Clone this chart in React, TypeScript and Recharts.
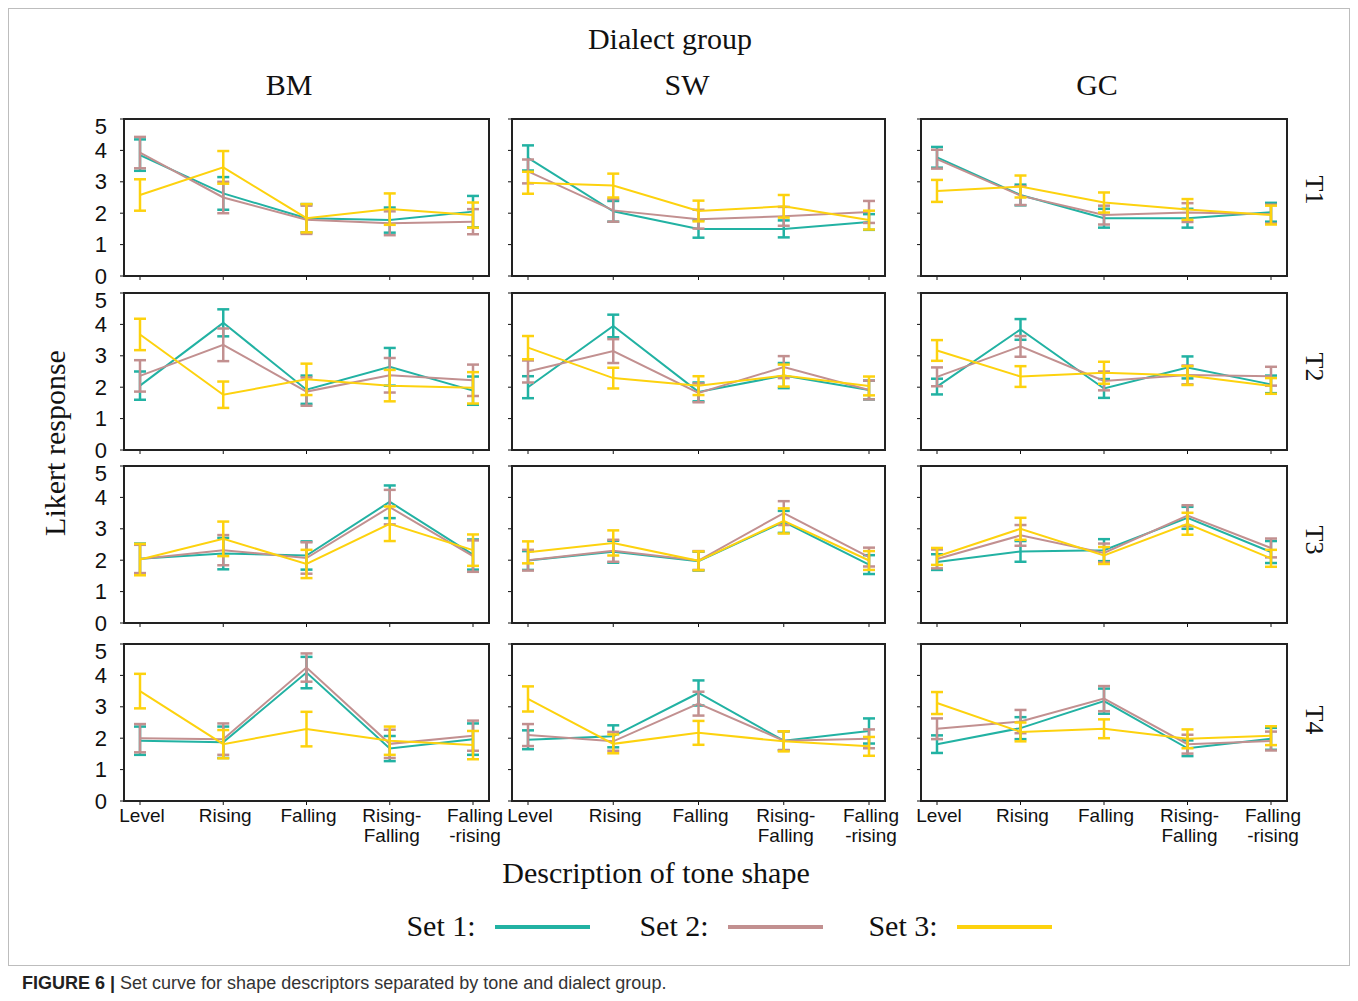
import React from "react";
import { LineChart, Line, XAxis, YAxis, ErrorBar } from "recharts";

// ---------- categories / labels ----------
const categories = ["Level", "Rising", "Falling", "Rising-\nFalling", "Falling\n-rising"];
const dialects = ["BM", "SW", "GC"];
const tones = ["T1", "T2", "T3", "T4"];
const yTicks = [0, 1, 2, 3, 4, 5];
const setNames = ["Set 1:", "Set 2:", "Set 3:"];

// ---------- BM ----------
const bmT1Set1 = [3.85, 2.63, 1.84, 1.78, 2.05];
const bmT1Set2 = [3.93, 2.5, 1.79, 1.68, 1.73];
const bmT1Set3 = [2.58, 3.46, 1.84, 2.13, 1.94];
const bmT1Err1 = [0.5, 0.52, 0.45, 0.4, 0.5];
const bmT1Err2 = [0.5, 0.5, 0.45, 0.38, 0.4];
const bmT1Err3 = [0.5, 0.52, 0.45, 0.5, 0.4];

const bmT2Set1 = [2.05, 4.05, 1.92, 2.65, 1.89];
const bmT2Set2 = [2.36, 3.35, 1.86, 2.38, 2.22];
const bmT2Set3 = [3.68, 1.76, 2.25, 2.05, 1.98];
const bmT2Err1 = [0.45, 0.43, 0.45, 0.6, 0.45];
const bmT2Err2 = [0.5, 0.52, 0.45, 0.55, 0.5];
const bmT2Err3 = [0.5, 0.42, 0.5, 0.5, 0.5];

const bmT3Set1 = [2.05, 2.21, 2.15, 3.86, 2.18];
const bmT3Set2 = [2.04, 2.32, 2.07, 3.69, 2.13];
const bmT3Set3 = [2.02, 2.68, 1.88, 3.16, 2.32];
const bmT3Err1 = [0.48, 0.5, 0.45, 0.52, 0.48];
const bmT3Err2 = [0.45, 0.48, 0.5, 0.55, 0.5];
const bmT3Err3 = [0.5, 0.55, 0.45, 0.55, 0.5];

const bmT4Set1 = [1.92, 1.87, 4.09, 1.67, 1.97];
const bmT4Set2 = [2.0, 1.97, 4.25, 1.82, 2.08];
const bmT4Set3 = [3.5, 1.81, 2.29, 1.92, 1.78];
const bmT4Err1 = [0.45, 0.5, 0.5, 0.4, 0.5];
const bmT4Err2 = [0.45, 0.5, 0.45, 0.45, 0.48];
const bmT4Err3 = [0.55, 0.45, 0.55, 0.45, 0.45];

// ---------- SW ----------
const swT1Set1 = [3.76, 2.06, 1.5, 1.5, 1.72];
const swT1Set2 = [3.33, 2.09, 1.81, 1.9, 2.04];
const swT1Set3 = [2.97, 2.88, 2.07, 2.22, 1.78];
const swT1Err1 = [0.4, 0.33, 0.28, 0.27, 0.25];
const swT1Err2 = [0.38, 0.36, 0.3, 0.3, 0.35];
const swT1Err3 = [0.35, 0.38, 0.33, 0.36, 0.3];

const swT2Set1 = [2.0, 3.95, 1.85, 2.37, 1.91];
const swT2Set2 = [2.5, 3.15, 1.82, 2.64, 1.91];
const swT2Set3 = [3.26, 2.29, 2.05, 2.37, 2.04];
const swT2Err1 = [0.35, 0.36, 0.3, 0.4, 0.3];
const swT2Err2 = [0.35, 0.38, 0.3, 0.35, 0.3];
const swT2Err3 = [0.37, 0.33, 0.3, 0.35, 0.3];

const swT3Set1 = [1.99, 2.27, 1.97, 3.22, 1.86];
const swT3Set2 = [2.0, 2.3, 1.99, 3.5, 2.1];
const swT3Set3 = [2.25, 2.55, 1.98, 3.25, 1.99];
const swT3Err1 = [0.3, 0.35, 0.3, 0.35, 0.3];
const swT3Err2 = [0.33, 0.35, 0.3, 0.38, 0.3];
const swT3Err3 = [0.35, 0.4, 0.3, 0.4, 0.3];

const swT4Set1 = [1.95, 2.06, 3.44, 1.92, 2.23];
const swT4Set2 = [2.1, 1.9, 3.1, 1.92, 1.98];
const swT4Set3 = [3.25, 1.82, 2.17, 1.9, 1.74];
const swT4Err1 = [0.3, 0.35, 0.4, 0.3, 0.4];
const swT4Err2 = [0.35, 0.3, 0.38, 0.3, 0.3];
const swT4Err3 = [0.4, 0.3, 0.38, 0.32, 0.3];

// ---------- GC ----------
const gcT1Set1 = [3.78, 2.58, 1.84, 1.84, 2.03];
const gcT1Set2 = [3.72, 2.56, 1.94, 2.02, 1.97];
const gcT1Set3 = [2.71, 2.85, 2.34, 2.12, 1.94];
const gcT1Err1 = [0.33, 0.33, 0.3, 0.3, 0.3];
const gcT1Err2 = [0.3, 0.3, 0.3, 0.3, 0.3];
const gcT1Err3 = [0.35, 0.35, 0.32, 0.33, 0.3];

const gcT2Set1 = [2.02, 3.84, 1.96, 2.63, 2.09];
const gcT2Set2 = [2.33, 3.3, 2.2, 2.39, 2.35];
const gcT2Set3 = [3.17, 2.34, 2.46, 2.37, 2.04];
const gcT2Err1 = [0.25, 0.33, 0.3, 0.35, 0.28];
const gcT2Err2 = [0.3, 0.33, 0.3, 0.3, 0.3];
const gcT2Err3 = [0.33, 0.33, 0.35, 0.3, 0.25];

const gcT3Set1 = [1.94, 2.28, 2.32, 3.35, 2.26];
const gcT3Set2 = [2.04, 2.79, 2.23, 3.42, 2.39];
const gcT3Set3 = [2.12, 3.0, 2.15, 3.16, 2.06];
const gcT3Err1 = [0.25, 0.33, 0.35, 0.35, 0.35];
const gcT3Err2 = [0.3, 0.33, 0.3, 0.33, 0.3];
const gcT3Err3 = [0.27, 0.35, 0.27, 0.35, 0.27];

const gcT4Set1 = [1.81, 2.32, 3.18, 1.68, 1.98];
const gcT4Set2 = [2.3, 2.53, 3.26, 1.81, 1.91];
const gcT4Set3 = [3.12, 2.2, 2.3, 1.98, 2.08];
const gcT4Err1 = [0.28, 0.35, 0.4, 0.25, 0.35];
const gcT4Err2 = [0.33, 0.37, 0.4, 0.3, 0.3];
const gcT4Err3 = [0.35, 0.3, 0.3, 0.3, 0.3];

// panels[row][col] = [set1, set2, set3, err1, err2, err3]
const panels = [
  [
    [bmT1Set1, bmT1Set2, bmT1Set3, bmT1Err1, bmT1Err2, bmT1Err3],
    [swT1Set1, swT1Set2, swT1Set3, swT1Err1, swT1Err2, swT1Err3],
    [gcT1Set1, gcT1Set2, gcT1Set3, gcT1Err1, gcT1Err2, gcT1Err3],
  ],
  [
    [bmT2Set1, bmT2Set2, bmT2Set3, bmT2Err1, bmT2Err2, bmT2Err3],
    [swT2Set1, swT2Set2, swT2Set3, swT2Err1, swT2Err2, swT2Err3],
    [gcT2Set1, gcT2Set2, gcT2Set3, gcT2Err1, gcT2Err2, gcT2Err3],
  ],
  [
    [bmT3Set1, bmT3Set2, bmT3Set3, bmT3Err1, bmT3Err2, bmT3Err3],
    [swT3Set1, swT3Set2, swT3Set3, swT3Err1, swT3Err2, swT3Err3],
    [gcT3Set1, gcT3Set2, gcT3Set3, gcT3Err1, gcT3Err2, gcT3Err3],
  ],
  [
    [bmT4Set1, bmT4Set2, bmT4Set3, bmT4Err1, bmT4Err2, bmT4Err3],
    [swT4Set1, swT4Set2, swT4Set3, swT4Err1, swT4Err2, swT4Err3],
    [gcT4Set1, gcT4Set2, gcT4Set3, gcT4Err1, gcT4Err2, gcT4Err3],
  ],
];

// ---------- styling ----------
const COLORS = ["#22b2a3", "#c29090", "#fdd20e"];
const SERIF = "'Liberation Serif', 'Times New Roman', serif";
const SANS = "'Liberation Sans', Arial, Helvetica, sans-serif";
const colLefts = [124, 512, 921];
const colWidths = [365, 373, 366];
const rowTops = [119, 293, 466, 644];
const plotH = 157;

const buildRows = (p: number[][]) =>
  categories.map((c, i) => ({
    cat: c,
    s1: p[0][i],
    s2: p[1][i],
    s3: p[2][i],
    e1: p[3][i],
    e2: p[4][i],
    e3: p[5][i],
  }));

const NumTick = (props: any) => {
  const { x, y, payload } = props;
  const dy = payload.value === 5 ? 7 : 0;
  return (
    <text
      x={x}
      y={y + dy}
      textAnchor="end"
      dominantBaseline="central"
      fontSize={22}
      fontFamily={SANS}
      fill="#111"
    >
      {payload.value}
    </text>
  );
};

const CatTick = (props: any) => {
  const { x, y, payload } = props;
  const lines = String(payload.value).split("\n");
  return (
    <text x={x + 2} y={y} textAnchor="middle" fontSize={19} fontFamily={SANS} fill="#111">
      {lines.map((l, i) => (
        <tspan key={i} x={x + 2} dy={i === 0 ? 15 : 20}>
          {l}
        </tspan>
      ))}
    </text>
  );
};

const Empty = () => <g />;

function Panel({ row, col }: { row: number; col: number }) {
  const showY = col === 0;
  const showX = row === 3;
  const yW = showY ? 60 : 8;
  const xH = showX ? 52 : showY ? 16 : 8;
  const m = showY ? 12 : 3;
  const mr = showX ? 40 : 3;
  const plotW = colWidths[col];
  const data = buildRows(panels[row][col]);
  return (
    <>
      <div style={{ position: "absolute", left: colLefts[col] - yW, top: rowTops[row] - m }}>
        <LineChart
          width={plotW + yW + mr}
          height={plotH + xH + m}
          data={data}
          margin={{ top: m, right: mr, left: 0, bottom: 0 }}
        >
          <XAxis
            dataKey="cat"
            interval={0}
            padding={{ left: 16, right: 16 }}
            height={xH}
            tickSize={4}
            tickMargin={2}
            tick={showX ? <CatTick /> : <Empty />}
            axisLine={{ stroke: "#111", strokeWidth: 2 }}
            tickLine={{ stroke: "#111", strokeWidth: 1 }}
          />
          <YAxis
            domain={[0, 5]}
            ticks={yTicks}
            interval={0}
            width={yW}
            tickSize={4}
            tickMargin={13}
            tick={showY ? <NumTick /> : <Empty />}
            axisLine={{ stroke: "#111", strokeWidth: 2 }}
            tickLine={{ stroke: "#111", strokeWidth: 1 }}
          />
          {["s1", "s2", "s3"].map((k, i) => (
            <Line
              key={k}
              type="linear"
              dataKey={k}
              stroke={COLORS[i]}
              strokeWidth={2}
              dot={false}
              activeDot={false}
              isAnimationActive={false}
            >
              <ErrorBar
                dataKey={`e${i + 1}`}
                width={6}
                strokeWidth={2.5}
                stroke={COLORS[i]}
                direction="y"
                isAnimationActive={false}
              />
            </Line>
          ))}
        </LineChart>
      </div>
      <div
        style={{
          position: "absolute",
          left: colLefts[col] - 1,
          top: rowTops[row] - 1,
          width: plotW + 2,
          height: plotH + 2,
          border: "2px solid #222",
          boxSizing: "border-box",
          pointerEvents: "none",
        }}
      />
    </>
  );
}

const Label = ({
  x,
  y,
  text,
  size = 30,
  rotate = 0,
  font = SERIF,
}: {
  x: number;
  y: number;
  text: string;
  size?: number;
  rotate?: number;
  font?: string;
}) => (
  <div
    style={{
      position: "absolute",
      left: x,
      top: y,
      transform: `translate(-50%, -50%) rotate(${rotate}deg)`,
      fontFamily: font,
      fontSize: size,
      lineHeight: 1,
      whiteSpace: "nowrap",
      color: "#111",
    }}
  >
    {text}
  </div>
);

export default function App() {
  const dialectX = [289, 687, 1097];
  const toneY = [190, 367, 540, 720];
  const legendText = [441, 674, 903];
  const legendLine = [495, 728, 957];
  return (
    <div
      style={{
        position: "absolute",
        left: 0,
        top: 0,
        width: 1358,
        height: 1001,
        background: "#fff",
        overflow: "hidden",
      }}
    >
      <div
        style={{
          position: "absolute",
          left: 8,
          top: 8,
          width: 1342,
          height: 958,
          border: "1px solid #bdbdbd",
          boxSizing: "border-box",
        }}
      />
      <Label x={670} y={39} text="Dialect group" />
      {dialects.map((d, i) => (
        <Label key={d} x={dialectX[i]} y={85} text={d} />
      ))}
      {tones.map((t, r) => (
        <Label key={t} x={1314} y={toneY[r]} text={t} size={26} rotate={90} />
      ))}
      <Label x={55} y={443} text="Likert response" rotate={-90} />
      <Label x={656} y={873} text="Description of tone shape" />
      {panels.map((rowArr, r) =>
        rowArr.map((_, c) => <Panel key={`${r}-${c}`} row={r} col={c} />)
      )}
      {setNames.map((s, i) => (
        <React.Fragment key={s}>
          <Label x={legendText[i]} y={926} text={s} />
          <div
            style={{
              position: "absolute",
              left: legendLine[i],
              top: 925,
              width: 95,
              height: 4,
              background: COLORS[i],
            }}
          />
        </React.Fragment>
      ))}
      <div
        style={{
          position: "absolute",
          left: 22,
          top: 973,
          fontFamily: SANS,
          fontSize: 18,
          lineHeight: "20px",
          color: "#333",
          whiteSpace: "nowrap",
        }}
      >
        <b style={{ color: "#222" }}>FIGURE 6 |</b> Set curve for shape descriptors separated by tone and
        dialect group.
      </div>
    </div>
  );
}
